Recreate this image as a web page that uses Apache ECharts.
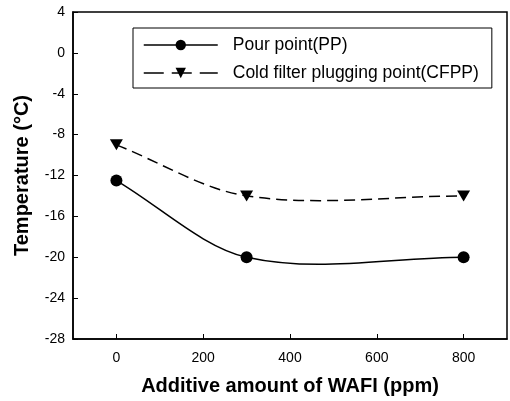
<!DOCTYPE html>
<html><head><meta charset="utf-8">
<script src="https://cdn.jsdelivr.net/npm/echarts@6/dist/echarts.min.js"></script>
<style>html,body{margin:0;padding:0;background:#fff}#c{width:510px;height:401px}</style>
</head><body><div id="c"></div>
<script>
var xValues = [0, 300, 800];
var ppValues = [-12.5, -20, -20];
var cfppValues = [-9, -14, -14];
var xTicks = [0, 200, 400, 600, 800];
var seriesNames = ['Pour point(PP)', 'Cold filter plugging point(CFPP)'];
var xTitle = 'Additive amount of WAFI (ppm)';
var yTitle = 'Temperature (°C)';

function pairs(xs, ys){ return xs.map(function(x,i){ return [x, ys[i]]; }); }

// Hermite tangents (Catmull-Rom interior, secant at ends), computed in data space
function tangents(xs, ys){
  var n = xs.length, m = [];
  for (var i = 1; i < n - 1; i++) m[i] = (ys[i+1] - ys[i-1]) / (xs[i+1] - xs[i-1]);
  m[0] = (ys[1] - ys[0]) / (xs[1] - xs[0]);
  m[n-1] = (ys[n-1] - ys[n-2]) / (xs[n-1] - xs[n-2]);
  return m;
}
function curveRenderer(xs, ys, lineDash){
  var m = tangents(xs, ys);
  return function(params, api){
    if (params.dataIndexInside !== 0) return null;
    var d = '';
    for (var i = 0; i < xs.length; i++){
      var p = api.coord([xs[i], ys[i]]);
      if (i === 0) { d += 'M' + p[0] + ' ' + p[1]; continue; }
      var h = xs[i] - xs[i-1];
      var c1 = api.coord([xs[i-1] + h/3, ys[i-1] + m[i-1]*h/3]);
      var c2 = api.coord([xs[i] - h/3, ys[i] - m[i]*h/3]);
      d += ' C' + c1[0] + ' ' + c1[1] + ' ' + c2[0] + ' ' + c2[1] + ' ' + p[0] + ' ' + p[1];
    }
    return {type: 'path', shape: {pathData: d},
      style: {fill: null, stroke: '#000', lineWidth: 1.5, lineDash: lineDash}};
  };
}

var FF = 'Liberation Sans, Arial, sans-serif';
var chart = echarts.init(document.getElementById('c'), null, {renderer:'canvas'});
chart.setOption({
  animation: false,
  backgroundColor: '#fff',
  grid: {left: 73, right: 3, top: 12, bottom: 61, show: true, borderColor: '#000', borderWidth: 1.5, backgroundColor: 'transparent'},
  legend: {
    orient: 'vertical', left: 133, top: 28,
    borderColor: '#000', borderWidth: 1, padding: [8, 13, 6, 10],
    itemGap: 10, itemWidth: 74, itemHeight: 13,
    textStyle: {fontFamily: FF, fontSize: 17.5, color: '#000', padding: [0, 0, 0, 10]},
    data: [
      {name: seriesNames[0], lineStyle: {opacity: 1, width: 1.5, color: '#000', type: 'solid'}},
      {name: seriesNames[1], lineStyle: {opacity: 1, width: 1.5, color: '#000', type: [20, 8]}}
    ]
  },
  xAxis: {
    type: 'value', min: -100, max: 900,
    name: xTitle, nameLocation: 'middle', nameGap: 37,
    nameTextStyle: {fontFamily: FF, fontSize: 20, fontWeight: 'bold', color: '#000'},
    axisLine: {show: true, onZero: false, lineStyle: {color: '#000', width: 1.5}},
    axisTick: {show: true, inside: true, length: 5, customValues: xTicks, lineStyle: {color: '#000'}},
    axisLabel: {customValues: xTicks, margin: 12, fontFamily: FF, fontSize: 14, color: '#000'},
    splitLine: {show: false}
  },
  yAxis: {
    type: 'value', min: -28, max: 4, interval: 4,
    name: yTitle, nameLocation: 'middle', nameGap: 41,
    nameTextStyle: {fontFamily: FF, fontSize: 20, fontWeight: 'bold', color: '#000'},
    axisLine: {show: true, onZero: false, lineStyle: {color: '#000', width: 1.5}},
    axisTick: {show: true, inside: true, length: 5, lineStyle: {color: '#000'}},
    axisLabel: {margin: 8, fontFamily: FF, fontSize: 14, color: '#000'},
    splitLine: {show: false}
  },
  series: [
    {
      type: 'custom', silent: true, z: 1,
      data: pairs(xValues, ppValues),
      renderItem: curveRenderer(xValues, ppValues, null)
    },
    {
      type: 'custom', silent: true, z: 1,
      data: pairs(xValues, cfppValues),
      renderItem: curveRenderer(xValues, cfppValues, [11, 6])
    },
    {
      name: seriesNames[0], type: 'line', z: 3,
      data: pairs(xValues, ppValues),
      symbol: 'circle', symbolSize: 12,
      itemStyle: {color: '#000'},
      lineStyle: {color: '#000', width: 1.5, opacity: 0}
    },
    {
      name: seriesNames[1], type: 'line', z: 3,
      data: pairs(xValues, cfppValues),
      symbol: 'triangle', symbolSize: [13, 11], symbolRotate: 180,
      itemStyle: {color: '#000'},
      lineStyle: {color: '#000', width: 1.5, type: [11, 6], opacity: 0}
    }
  ]
});
</script></body></html>
